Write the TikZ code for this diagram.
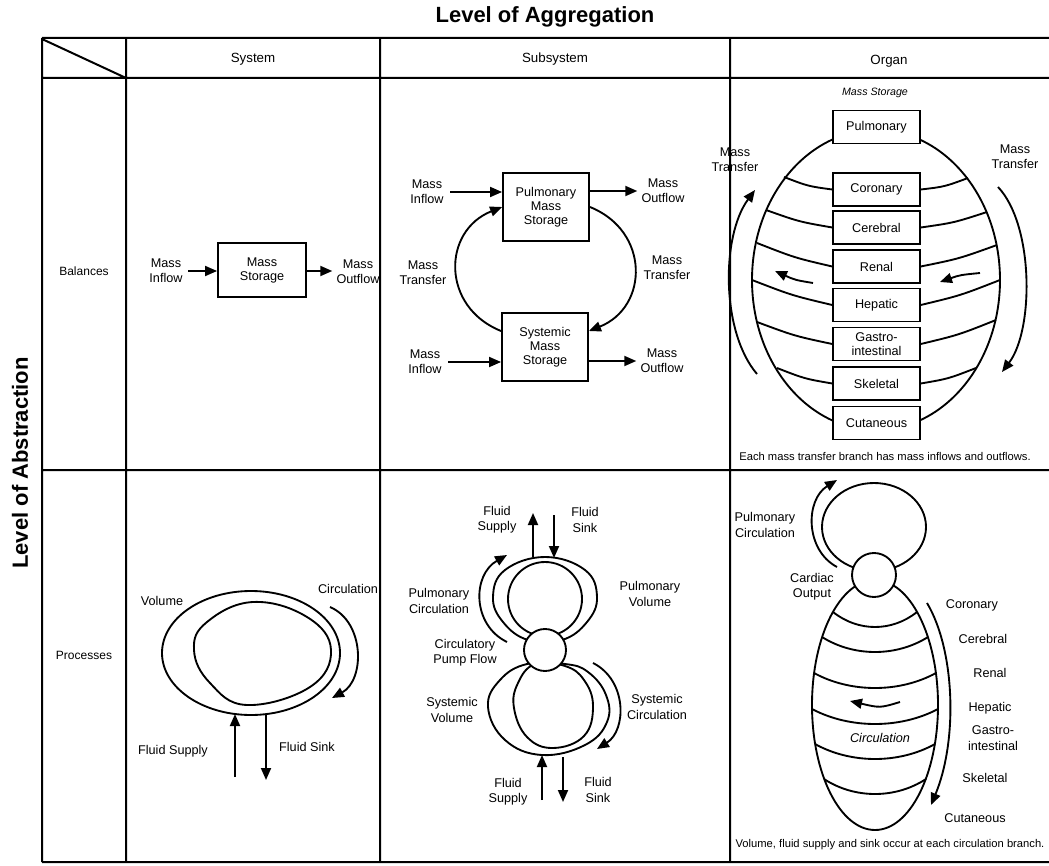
\documentclass[tikz,border=0pt]{standalone}
\usepackage{fontspec}
\setmainfont{Liberation Sans}
\usetikzlibrary{arrows.meta,calc}
\begin{document}
\begin{tikzpicture}[x=0.75pt,y=-0.75pt,
  lbl/.style={font=\fontsize{9.5}{11.5}\selectfont, align=center, inner sep=0pt},
  capt/.style={font=\fontsize{8.4}{10}\selectfont, inner sep=0pt},
  hdr/.style={font=\fontsize{10}{11}\selectfont, inner sep=0pt},
  rowlbl/.style={font=\fontsize{9}{11}\selectfont, inner sep=0pt},
  grid/.style={line width=1.5pt},
  shp/.style={line width=1.4pt},
  box/.style={draw, fill=white, line width=1.4pt, align=center, inner sep=0pt, font=\fontsize{9.5}{10.5}\selectfont},
  obox/.style={box, minimum width=65pt, minimum height=24.75pt},
  arr/.style={line width=1.4pt, -{Triangle[length=9pt,width=7.5pt]}},
  pumpc/.style={circle, draw, fill=white, line width=1.4pt, inner sep=0pt},
]
\useasboundingbox (0,0) rectangle (1049,866);

% axis titles
\node[font=\fontsize{16.5}{18}\selectfont\bfseries] (agg) at (545,17) {Level of Aggregation};
\node[font=\fontsize{16.5}{18}\selectfont\bfseries, rotate=90] (abs) at (20,463) {Level of Abstraction};

% table grid
\draw[grid] (42,38) -- (1049,38) (42,78) -- (1049,78) (42,470) -- (1049,470) (42,862) -- (1049,862)
  (42,38) -- (42,862) (126,38) -- (126,862) (380,38) -- (380,862) (730,38) -- (730,862)
  (42,39) -- (126,78);

\node[hdr] (hsys) at (253,59) {System};
\node[hdr] (hsub) at (555,59) {Subsystem};
\node[hdr] (horg) at (889,61) {Organ};
\node[rowlbl] (rbal) at (84,271) {Balances};
\node[rowlbl] (rproc) at (84,655) {Processes};

% ---------- Balances / System ----------
\node[box, minimum width=66pt, minimum height=40.5pt] (ms) at (262,270) {Mass\\Storage};
\node[lbl] (msin) at (166,271) {Mass\\Inflow};
\node[lbl] (msout) at (358,272) {Mass\\Outflow};
\draw[arr, shorten <=4pt] (msin.east) -- (msin.east -| ms.west);
\draw[arr, shorten >=3pt] (ms.east |- msin.east) -- (ms.east |- msin.east -| msout.west);

% ---------- Balances / Subsystem ----------
\node[box, minimum width=64.5pt, minimum height=51pt] (pulbox) at (546,207) {Pulmonary\\Mass\\Storage};
\node[box, minimum width=64.5pt, minimum height=51pt] (sysbox) at (545,347) {Systemic\\Mass\\Storage};
\node[lbl] (in1) at (427,192) {Mass\\Inflow};
\node[lbl] (out1) at (663,191) {Mass\\Outflow};
\node[lbl] (in2) at (425,362) {Mass\\Inflow};
\node[lbl] (out2) at (662,361) {Mass\\Outflow};
\node[lbl] (trl) at (423,273) {Mass\\Transfer};
\node[lbl] (trr) at (667,268) {Mass\\Transfer};
\draw[arr, shorten <=5pt] (in1.east) -- (in1.east -| pulbox.west);
\draw[arr, shorten >=3pt] (pulbox.east |- out1.west) -- (out1.west);
\draw[arr, shorten <=5pt] (in2.east) -- (in2.east -| sysbox.west);
\draw[arr, shorten >=3pt] (sysbox.east |- out2.west) -- (out2.west);
\draw[arr] (sysbox.160) .. controls +(-60,-24) and +(-60,24) .. (pulbox.west);
\draw[arr] (pulbox.east) .. controls +(60,24) and +(60,-24) .. (sysbox.20);

% ---------- Balances / Organ ----------
\draw[shp] (876,280) ellipse [x radius=124, y radius=150];
\node[font=\fontsize{8}{9}\selectfont\itshape] (mst) at (875,93) {Mass Storage};
\node[obox] (opul) at (876.5,127) {Pulmonary};
\node[obox] (ocor) at (876.5,189.5) {Coronary};
\node[obox] (ocer) at (876.5,227.5) {Cerebral};
\node[obox] (oren) at (876.5,266.5) {Renal};
\node[obox] (ohep) at (876.5,305) {Hepatic};
\node[obox, font=\fontsize{9.5}{10}\selectfont] (ogas) at (876.5,344) {Gastro-\\intestinal};
\node[obox] (oske) at (876.5,383.5) {Skeletal};
\node[obox] (ocut) at (876.5,423) {Cutaneous};
\coordinate (eL1) at (784,177);  \coordinate (eR1) at (968,178);
\coordinate (eL2) at (766,210);  \coordinate (eR2) at (987,212);
\coordinate (eL3) at (757,243);  \coordinate (eR3) at (997,245);
\coordinate (eL4) at (752,280);  \coordinate (eR4) at (1000,280);
\coordinate (eL5) at (757,322);  \coordinate (eR5) at (996,320);
\coordinate (eL6) at (777,368);  \coordinate (eR6) at (976,368);
\foreach \b [count=\i] in {ocor,ocer,oren,ohep,ogas,oske} {
  \draw[shp] (eL\i) .. controls ($(eL\i)!0.5!(\b.west)+(0,3)$) .. (\b.west);
  \draw[shp] (\b.east) .. controls ($(\b.east)!0.5!(eR\i)+(0,3)$) .. (eR\i);
}
\coordinate (mtl0) at (757,374); \coordinate (mtl1) at (755,190);
\draw[arr] (mtl0) .. controls (721,332) and (721,236) .. (mtl1);
\coordinate (mtr0) at (998,187); \coordinate (mtr1) at (1002,372);
\draw[arr] (mtr0) .. controls (1034,225) and (1034,330) .. (mtr1);
\node[lbl] (mtlL) at (735,160) {Mass\\Transfer};
\node[lbl] (mtrL) at (1015,157) {Mass\\Transfer};
\coordinate (sal0) at (813,283); \coordinate (sal1) at (775,271);
\draw[arr] (sal0) .. controls (795,280) .. (sal1);
\coordinate (sar0) at (980,273); \coordinate (sar1) at (940,282);
\draw[arr] (sar0) .. controls (960,275) .. (sar1);
\node[capt] (capb) at (885,456) {Each mass transfer branch has mass inflows and outflows.};

% ---------- Processes / System ----------
\draw[shp] (251,653) ellipse [x radius=89, y radius=62];
\draw[shp] plot[smooth cycle, tension=0.7] coordinates {(194,650) (207,622) (253,602) (307,617) (331,650) (310,687) (247,705) (210,683)};
\coordinate (sc0) at (330,607); \coordinate (sc1) at (332,698);
\draw[arr] (sc0) .. controls (365,622) and (365,680) .. (sc1);
\coordinate (sfs0) at (235,777); \coordinate (sfs1) at (235,714);
\coordinate (sfk0) at (266,714); \coordinate (sfk1) at (266,780);
\draw[arr] (sfs0) -- (sfs1);
\draw[arr] (sfk0) -- (sfk1);
\node[lbl] (scirc) at (348,589) {Circulation};
\node[lbl] (svol) at (162,601) {Volume};
\node[lbl] (ssup) at (173,751) {Fluid Supply};
\node[lbl] (ssink) at (307,747) {Fluid Sink};

% ---------- Processes / Subsystem ----------
\draw[shp] plot[smooth cycle, tension=0.7] coordinates {(528,640) (503,622) (493,597) (505,570) (545,557) (585,570) (597,597) (587,622) (562,640)};
\draw[shp] (545,599) circle [radius=37];
\draw[shp] plot[smooth cycle, tension=0.7] coordinates {(527,664) (500,680) (488,707) (505,740) (542,755) (585,745) (607,722) (606,695) (588,672) (565,664)};
\draw[shp] plot[smooth cycle, tension=0.7] coordinates {(535,664) (518,683) (514,708) (527,737) (553,748) (584,736) (593,706) (584,680) (565,666)};
\node[pumpc, minimum size=31.5pt] (pump1) at (545,650) {};
\coordinate (pc0) at (507,642); \coordinate (pc1) at (507,555);
\draw[arr] (pc0) .. controls (472,625) and (472,575) .. (pc1);
\coordinate (yc0) at (593,663); \coordinate (yc1) at (597,749);
\draw[arr] (yc0) .. controls (627,680) and (627,730) .. (yc1);
\coordinate (ufs0) at (533,557); \coordinate (ufs1) at (533,513);
\coordinate (ufk0) at (554,515); \coordinate (ufk1) at (554,558);
\draw[arr] (ufs0) -- (ufs1);
\draw[arr] (ufk0) -- (ufk1);
\coordinate (lfs0) at (542,800); \coordinate (lfs1) at (542,755);
\coordinate (lfk0) at (563,757); \coordinate (lfk1) at (563,802);
\draw[arr] (lfs0) -- (lfs1);
\draw[arr] (lfk0) -- (lfk1);
\node[lbl] (usup) at (497,520) {Fluid\\Supply};
\node[lbl] (usink) at (585,520) {Fluid\\Sink};
\node[lbl] (pcirc) at (439,601) {Pulmonary\\Circulation};
\node[lbl] (pvol) at (650,594) {Pulmonary\\Volume};
\node[lbl] (cpf) at (465,653) {Circulatory\\Pump Flow};
\node[lbl] (yvol) at (452,710) {Systemic\\Volume};
\node[lbl] (ycirc) at (657,707) {Systemic\\Circulation};
\node[lbl] (lsup) at (508,792) {Fluid\\Supply};
\node[lbl] (lsink) at (598,790) {Fluid\\Sink};

% ---------- Processes / Organ ----------
\draw[shp] (874,527) ellipse [x radius=52, y radius=44];
\draw[shp] (875,705) ellipse [x radius=63, y radius=125];
\foreach \y/\dx in {612/42, 637/53, 673/61, 709/63, 744/60, 779/51}
  \draw[shp] (875-\dx,\y) .. controls +(\dx*0.6,20) and +(-\dx*0.6,20) .. (875+\dx,\y);
\node[pumpc, minimum size=33pt] (pump2) at (874,575) {};
\coordinate (opc0) at (837,567); \coordinate (opc1) at (837,480);
\draw[arr] (opc0) .. controls (805,550) and (805,500) .. (opc1);
\coordinate (occ0) at (927,603); \coordinate (occ1) at (931,805);
\draw[arr] (occ0) .. controls (955,650) and (958,740) .. (occ1);
\coordinate (oic0) at (900,702); \coordinate (oic1) at (850,701);
\draw[arr] (oic0) .. controls (880,708) .. (oic1);
\node[lbl] (opcl) at (765,525) {Pulmonary\\Circulation};
\node[lbl] (cout) at (812,587) {Cardiac\\Output};
\node[lbl] (lcor) at (972,605) {Coronary};
\node[lbl] (lcer) at (983,639) {Cerebral};
\node[lbl] (lren) at (990,673) {Renal};
\node[lbl] (lhep) at (990,708) {Hepatic};
\node[lbl] (lgas) at (993,738) {Gastro-\\intestinal};
\node[lbl] (lske) at (985,778) {Skeletal};
\node[lbl] (lcut) at (975,818) {Cutaneous};
\node[lbl, font=\fontsize{9.5}{11}\selectfont\itshape] (ocirc) at (880,738) {Circulation};
\node[capt] (capp) at (890,845) {Volume, fluid supply and sink occur at each circulation branch.};

\end{tikzpicture}
\end{document}
